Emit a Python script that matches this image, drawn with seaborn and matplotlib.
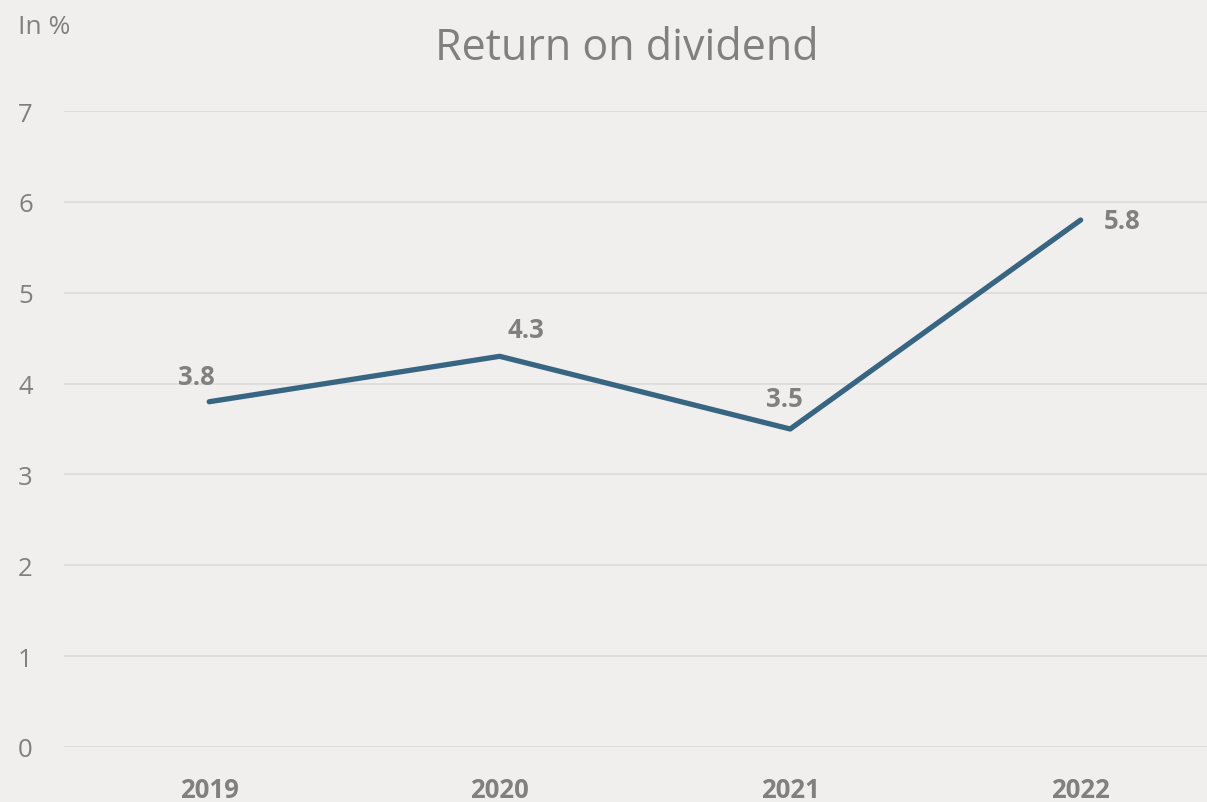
import matplotlib
matplotlib.use("Agg")
import matplotlib.pyplot as plt
import seaborn as sns
import pandas as pd

years = ["2019", "2020", "2021", "2022"]
values = [3.8, 4.3, 3.5, 5.8]
label_offsets = [(-9, 18), (19, 19), (-4, 22), (30, 0)]  # in points

BG = "#F1EFEE"
TXT = "#808080"
LINE = "#376582"

sns.set_theme(style="white")
plt.rcParams["font.family"] = ["Open Sans", "DejaVu Sans"]

df = pd.DataFrame({"year": years, "value": values})

fig = plt.figure(figsize=(12.07, 8.03), dpi=100, facecolor=BG)
ax = fig.add_axes([64 / 1207, (803 - 748) / 803, 1 - 64 / 1207, (748 - 112) / 803])
ax.set_facecolor(BG)

sns.lineplot(data=df, x="year", y="value", ax=ax, color=LINE, linewidth=3.8,
             sort=False, solid_capstyle="round")

ax.set_xlim(-0.5, 3.435)
ax.set_ylim(0, 7)
ax.set_yticks(range(0, 8))
ax.yaxis.grid(True, color="#DCDBDA", linewidth=1.2)
ax.set_axisbelow(True)
for s in ax.spines.values():
    s.set_visible(False)
ax.set_xlabel("")
ax.set_ylabel("")
ax.tick_params(axis="y", length=0, pad=33, labelsize=18.5, labelcolor=TXT)
ax.tick_params(axis="x", length=0, pad=21, labelsize=18.5, labelcolor=TXT)
for lbl in ax.get_yticklabels():
    lbl.set_horizontalalignment("left")
for lbl in ax.get_xticklabels():
    lbl.set_fontweight("bold")

for i, (v, off) in enumerate(zip(values, label_offsets)):
    ax.annotate(f"{v:.1f}", xy=(i, v), xytext=off, textcoords="offset points",
                ha="center", va="center", fontsize=18.5, fontweight="bold", color=TXT)

fig.text(18 / 1207, 1 - 27 / 803, "In %", fontsize=19, color=TXT, ha="left", va="center")
fig.text(627 / 1207, 1 - 49 / 803, "Return on dividend", fontsize=31, color=TXT,
         ha="center", va="center")

fig.savefig("out.png", dpi=100, facecolor=BG)
